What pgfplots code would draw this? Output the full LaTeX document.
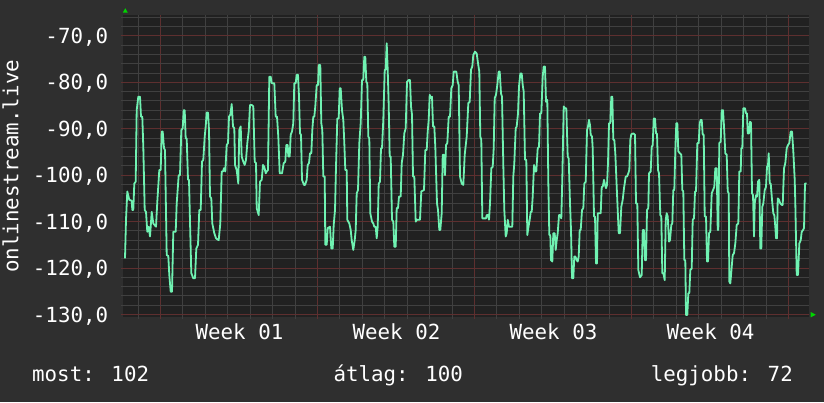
\documentclass[border=0pt]{standalone}
\usepackage{pgfplots}
\pgfplotsset{compat=1.18}
\usepackage{pgfplotstable}
\usepackage{fontspec}
\newfontfamily\rrdmono{DejaVu Sans Mono}
\newcommand\rrdfont{\rrdmono\fontsize{20.8bp}{25bp}\selectfont}

\definecolor{canvas}{HTML}{2F2F2F}
\definecolor{plotbg}{HTML}{212121}
\definecolor{gridminor}{HTML}{404040}
\definecolor{gridmajor}{HTML}{5E2F2F}
\definecolor{mint}{HTML}{70F2B2}
\definecolor{arrowgreen}{HTML}{00D400}

% signal level, x = time (pixel column of the rrd graph), y = dBm
\pgfplotstableread{
x y
125.0 -117.9
126.0 -109.6
127.3 -103.5
129.3 -105.3
131.7 -105.5
132.3 -107.5
133.3 -107.5
134.3 -101.8
135.7 -101.4
136.7 -86.0
138.3 -83.1
140.0 -83.1
141.0 -87.4
142.3 -87.4
143.3 -93.9
144.7 -107.5
146.0 -107.9
147.3 -112.2
148.7 -111.1
150.0 -113.2
150.7 -111.1
151.7 -107.9
153.3 -110.4
156.0 -111.1
157.3 -105.7
159.3 -98.9
160.7 -98.9
161.7 -90.6
162.7 -90.6
164.0 -94.2
165.0 -94.6
166.7 -117.2
168.3 -117.4
169.3 -121.5
170.7 -125.1
172.0 -125.1
173.3 -112.2
175.7 -112.2
176.7 -106.1
178.7 -100.0
180.0 -100.0
181.3 -90.3
182.7 -89.9
183.7 -86.0
184.7 -86.0
185.7 -92.1
186.7 -92.1
188.0 -101.0
189.0 -101.0
190.0 -110.0
191.3 -121.1
193.3 -122.2
195.0 -122.2
196.3 -115.8
198.0 -115.0
199.3 -107.5
200.7 -107.5
202.0 -97.1
203.3 -96.7
204.7 -91.7
205.7 -89.5
206.7 -86.5
208.0 -86.5
209.0 -90.3
210.0 -104.6
211.3 -105.0
212.3 -110.4
214.3 -112.5
216.0 -113.6
218.7 -114.0
220.3 -110.4
221.7 -99.2
223.0 -99.2
224.0 -98.5
225.3 -99.2
226.7 -93.5
228.0 -93.1
229.0 -87.4
230.3 -87.0
231.7 -84.7
233.0 -89.5
234.3 -89.9
235.0 -97.8
236.7 -98.9
238.3 -101.8
239.3 -90.3
240.7 -89.5
241.7 -96.0
243.3 -97.1
244.7 -97.8
246.0 -96.7
247.3 -93.1
248.7 -90.6
250.0 -84.9
252.0 -84.9
253.3 -85.2
254.7 -97.1
256.0 -97.4
256.7 -107.1
258.7 -108.6
260.0 -101.4
261.7 -101.0
263.0 -97.8
264.3 -98.2
265.7 -99.6
266.7 -99.2
268.0 -98.9
269.3 -78.8
270.7 -78.8
271.7 -80.2
274.3 -80.2
275.7 -87.4
277.0 -87.4
278.3 -91.7
279.7 -99.6
282.0 -99.6
283.7 -97.4
285.3 -97.1
286.3 -93.5
287.7 -93.5
288.3 -96.0
289.7 -96.0
290.7 -91.3
292.0 -90.6
293.3 -88.8
294.3 -80.2
295.7 -80.2
296.7 -78.4
298.0 -78.4
299.0 -83.1
300.0 -91.0
301.0 -91.3
302.0 -101.0
304.0 -102.1
305.0 -102.1
306.7 -101.0
307.7 -97.8
309.0 -97.4
310.0 -95.3
311.3 -95.3
312.3 -90.3
313.3 -87.4
314.3 -87.4
315.3 -85.2
316.7 -80.6
318.0 -80.6
318.7 -76.3
320.3 -76.3
321.3 -88.8
322.3 -90.3
323.3 -100.3
324.7 -100.3
325.3 -115.0
326.7 -115.0
327.7 -111.4
330.0 -111.1
331.3 -115.8
332.7 -115.8
333.7 -110.7
335.0 -107.5
336.0 -98.2
337.3 -87.8
338.7 -87.8
339.7 -81.3
340.7 -81.3
342.0 -86.0
343.3 -88.1
344.3 -93.1
345.3 -98.9
346.7 -98.9
347.3 -109.6
349.3 -110.4
350.7 -111.8
351.7 -114.0
353.3 -116.1
354.7 -114.0
355.7 -111.8
356.7 -103.9
358.0 -103.2
359.3 -93.1
360.7 -88.8
362.0 -79.5
363.3 -79.5
364.3 -74.5
365.3 -74.5
366.3 -79.9
367.3 -80.2
368.3 -91.7
369.3 -92.1
370.3 -108.2
372.0 -110.0
373.3 -110.4
374.3 -111.1
375.7 -111.1
376.7 -113.6
377.7 -111.1
378.7 -101.8
380.0 -101.4
381.0 -94.2
382.0 -94.2
383.3 -88.1
384.7 -77.3
385.7 -77.3
386.7 -71.6
387.7 -77.3
388.7 -84.9
389.7 -96.0
390.7 -96.0
392.0 -109.6
393.3 -110.0
394.3 -115.4
395.7 -115.4
396.7 -107.1
398.0 -107.1
399.0 -104.6
400.7 -104.6
401.7 -97.4
403.0 -95.6
404.3 -91.0
405.7 -89.9
407.0 -79.9
408.7 -79.5
410.0 -79.5
411.0 -85.2
412.0 -87.0
413.0 -100.3
414.3 -100.3
415.7 -110.0
417.0 -109.6
420.0 -109.6
421.3 -103.5
424.0 -103.2
425.3 -94.6
426.7 -94.6
427.7 -90.6
428.7 -88.1
429.7 -82.7
431.0 -83.4
432.0 -83.1
433.0 -89.5
434.3 -89.5
435.3 -93.9
437.0 -106.1
438.0 -107.5
439.3 -111.8
440.3 -111.8
441.7 -108.2
442.7 -95.6
444.0 -95.6
445.0 -100.0
446.0 -93.5
447.3 -93.1
448.7 -87.4
450.0 -87.4
451.3 -81.3
452.7 -80.6
453.7 -77.7
456.3 -77.7
457.7 -79.9
458.7 -80.6
460.0 -100.3
461.7 -101.8
463.3 -102.1
464.7 -95.6
466.7 -91.7
468.3 -84.5
469.7 -84.2
471.0 -77.3
472.3 -76.6
473.3 -74.1
475.0 -73.4
476.7 -73.8
478.0 -75.9
479.3 -77.7
480.3 -91.7
481.3 -92.4
482.3 -109.3
484.3 -109.3
486.0 -109.3
486.7 -108.6
488.0 -108.6
489.0 -109.6
490.0 -106.1
491.3 -98.5
492.7 -98.2
493.7 -94.2
494.7 -83.4
496.0 -82.7
497.3 -80.6
498.7 -77.7
499.7 -77.7
501.0 -82.4
502.0 -83.1
503.3 -97.8
504.3 -107.5
505.7 -113.2
506.7 -112.5
507.7 -109.6
509.0 -111.1
512.3 -111.1
513.3 -100.3
514.3 -97.4
515.7 -89.9
516.7 -89.5
518.0 -86.7
519.0 -80.9
520.3 -78.1
521.7 -78.1
522.7 -80.6
523.7 -82.0
525.0 -96.7
526.3 -96.7
527.3 -112.9
528.3 -111.4
529.7 -109.6
530.7 -107.9
531.7 -107.9
532.7 -104.6
534.0 -97.8
535.3 -99.2
536.3 -99.2
537.7 -94.2
539.0 -93.9
540.0 -86.7
541.3 -86.7
542.7 -78.8
543.7 -76.6
545.0 -76.6
546.0 -84.2
547.3 -83.8
548.3 -101.4
549.3 -112.9
550.3 -112.9
551.0 -118.3
552.3 -118.6
553.3 -112.5
554.7 -112.5
555.7 -116.1
556.7 -114.0
557.7 -112.5
559.0 -108.6
560.0 -108.6
561.3 -109.3
562.3 -100.7
563.7 -85.2
565.0 -85.6
566.3 -85.6
567.7 -96.0
568.7 -96.4
570.0 -106.1
571.0 -111.8
572.0 -122.2
573.3 -122.2
574.3 -117.5
575.3 -117.5
576.7 -118.3
577.7 -118.6
578.7 -117.5
579.7 -111.8
580.7 -111.8
582.0 -107.5
583.3 -107.1
584.3 -101.8
585.7 -101.4
587.0 -90.3
588.0 -89.5
589.0 -88.1
590.0 -89.2
590.7 -91.3
592.0 -91.7
592.7 -94.2
594.0 -108.9
595.0 -108.9
596.0 -119.0
597.0 -119.0
597.7 -108.2
600.7 -108.2
601.7 -102.5
602.7 -102.5
604.0 -101.0
605.0 -102.1
606.0 -102.8
607.0 -102.1
608.0 -97.4
609.0 -88.8
610.3 -88.8
611.3 -83.1
612.3 -83.1
613.3 -92.4
614.3 -92.4
615.3 -95.3
616.7 -102.5
617.7 -107.5
618.7 -112.5
620.0 -112.5
621.3 -106.8
622.7 -105.3
624.0 -102.8
625.7 -100.3
627.0 -100.3
628.3 -99.6
629.3 -98.9
630.3 -92.4
631.3 -91.2
633.3 -91.0
635.0 -91.3
636.0 -106.1
637.3 -106.1
638.3 -120.4
640.0 -122.0
641.7 -121.5
642.7 -111.8
644.0 -111.8
645.0 -118.3
646.0 -118.3
647.0 -107.5
648.3 -107.1
649.0 -99.6
650.7 -99.2
651.7 -93.9
652.7 -93.5
653.7 -87.8
655.0 -87.8
656.0 -91.0
657.0 -91.1
658.0 -98.9
659.0 -99.6
660.3 -108.6
661.3 -108.9
662.3 -121.1
663.3 -121.1
664.7 -122.6
665.7 -109.6
666.7 -108.2
667.7 -108.9
669.0 -114.3
670.0 -114.0
671.3 -110.7
672.3 -110.4
673.3 -103.2
674.3 -103.2
675.3 -94.6
676.3 -88.8
677.3 -88.8
678.3 -94.9
680.0 -95.3
681.3 -95.6
682.3 -103.2
683.3 -103.5
684.3 -118.3
685.3 -118.3
686.0 -130.1
687.3 -130.1
688.3 -125.4
689.3 -125.4
690.3 -120.4
691.7 -120.1
692.7 -109.6
694.0 -109.3
695.0 -103.5
696.0 -103.5
697.3 -93.1
698.7 -93.1
699.7 -88.8
700.7 -88.1
701.7 -88.1
702.7 -91.3
703.7 -91.3
704.7 -108.9
706.0 -108.9
707.0 -118.6
708.0 -118.6
709.0 -112.5
710.3 -112.2
711.7 -103.9
713.0 -103.2
714.3 -102.5
715.3 -98.5
716.7 -98.5
717.7 -111.8
718.3 -111.8
719.3 -93.1
720.7 -92.8
721.7 -86.0
723.0 -86.0
724.0 -89.5
725.3 -95.3
726.7 -95.6
727.7 -103.5
728.7 -103.9
729.3 -122.9
730.3 -123.3
731.3 -120.8
732.7 -117.2
734.0 -116.8
735.3 -114.7
736.7 -110.7
738.3 -110.4
739.3 -99.2
740.7 -99.2
741.3 -94.2
742.3 -94.2
743.3 -85.6
745.0 -85.6
746.0 -86.7
747.0 -86.7
747.7 -91.0
749.0 -91.0
750.0 -88.5
751.0 -88.7
752.0 -103.9
753.0 -104.3
754.0 -113.2
754.7 -106.1
756.0 -104.3
757.0 -104.6
758.0 -101.4
759.3 -101.0
760.3 -115.8
761.3 -115.8
762.3 -106.8
763.3 -106.1
764.7 -103.2
766.0 -102.5
767.0 -98.2
768.0 -97.8
768.7 -95.3
769.7 -101.8
770.7 -101.8
772.0 -105.3
773.3 -108.2
774.3 -108.6
775.3 -111.1
776.0 -113.6
777.0 -113.6
777.7 -105.0
779.0 -105.3
780.3 -106.1
781.7 -106.4
782.7 -106.4
784.0 -98.5
785.3 -97.4
786.7 -94.2
788.0 -93.5
789.3 -93.1
790.7 -90.6
792.0 -90.6
793.3 -94.9
794.7 -101.0
795.3 -106.1
796.7 -121.5
798.0 -121.5
799.3 -114.7
800.7 -114.0
801.7 -112.2
803.0 -111.8
804.0 -111.4
805.0 -101.8
806.7 -101.8
}\signal

\begin{document}
\begin{tikzpicture}[x=1bp,y=1bp]
\fill[canvas] (0,0) rectangle (824,402);
\useasboundingbox (0,0) rectangle (824,402);

\begin{axis}[
    at={(123bp,85bp)}, anchor=south west,
    scale only axis, width=686bp, height=302bp,
    xmin=123, xmax=809, ymin=-130.54, ymax=-65.51,
    axis background/.style={fill=plotbg},
    axis line style={draw=none},
    xtick={160.5,317.5,474.5,631.5,788.5},
    xticklabels={{},{},{},{},{}},
    minor xtick={138.5,182.5,205.5,227.5,250.5,272.5,295.5,
                 339.5,362.5,384.5,407.5,429.5,452.5,
                 496.5,519.5,541.5,564.5,586.5,609.5,
                 653.5,676.5,698.5,721.5,743.5,766.5},
    extra x ticks={239.5,396.5,553.5,710.5},
    extra x tick labels={Week 01,Week 02,Week 03,Week 04},
    extra x tick style={grid=none, major tick length=0pt},
    ytick={-130,-120,-110,-100,-90,-80,-70},
    yticklabels={{-130,0},{-120,0},{-110,0},{-100,0},{-90,0},{-80,0},{-70,0}},
    minor ytick={-128,-126,-124,-122,-118,-116,-114,-112,-108,-106,-104,-102,
                 -98,-96,-94,-92,-88,-86,-84,-82,-78,-76,-74,-72,-68,-66},
    grid=both,
    major grid style={draw=gridmajor, line width=1bp},
    minor grid style={draw=gridminor, line width=1bp},
    xtick pos=bottom, ytick pos=left,
    tick align=center,
    major tick length=4bp, minor tick length=4bp,
    major tick style={draw=gridmajor, line width=1bp},
    minor tick style={draw=gridminor, line width=1bp},
    ticklabel style={font=\rrdfont, text=white},
    xticklabel style={anchor=base, inner sep=0pt, yshift=-22.3bp},
    yticklabel style={anchor=base east, inner sep=0pt, xshift=-12.7bp, yshift=-7.6bp},
]
\addplot[mint, line width=1.8bp, line join=round, no markers] table[x=x, y=y] {\signal};
\end{axis}

% axis arrows
\fill[arrowgreen] (122.8,389.3) -- (127.8,389.3) -- (125.3,393.8) -- cycle;
\fill[arrowgreen] (810.7,90) -- (810.7,84.6) -- (815.8,87.3) -- cycle;

% vertical label and summary line
\node[rotate=90, anchor=base west, inner sep=0pt, text=white, font=\rrdfont] at (18.3,129) {onlinestream.live};
\node[anchor=base west, inner sep=0pt, text=white, font=\rrdfont] at (32,20.3) {most: 102};
\node[anchor=base, inner sep=0pt, text=white, font=\rrdfont] at (398.2,20.3) {átlag: 100};
\node[anchor=base east, inner sep=0pt, text=white, font=\rrdfont] at (793,20.3) {legjobb: 72};
\end{tikzpicture}
\end{document}
